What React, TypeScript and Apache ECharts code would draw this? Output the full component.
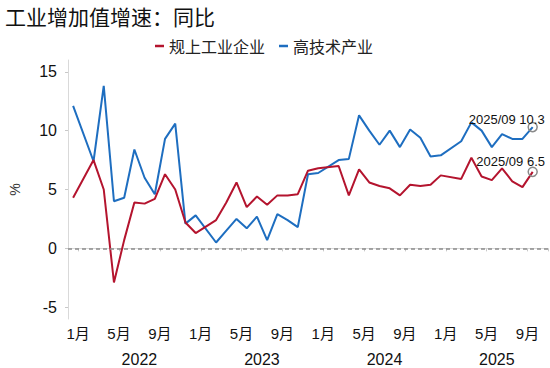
import React, { useEffect, useRef } from "react";
import * as echarts from "echarts";

const titleText = "工业增加值增速：同比";
const seriesNames = ["规上工业企业", "高技术产业"];

const categories = [
  "2021-12",
  "2022-01", "2022-02", "2022-03", "2022-04", "2022-05", "2022-06",
  "2022-07", "2022-08", "2022-09", "2022-10", "2022-11", "2022-12",
  "2023-01", "2023-02", "2023-03", "2023-04", "2023-05", "2023-06",
  "2023-07", "2023-08", "2023-09", "2023-10", "2023-11", "2023-12",
  "2024-01", "2024-02", "2024-03", "2024-04", "2024-05", "2024-06",
  "2024-07", "2024-08", "2024-09", "2024-10", "2024-11", "2024-12",
  "2025-01", "2025-02", "2025-03", "2025-04", "2025-05", "2025-06",
  "2025-07", "2025-08", "2025-09", "2025-10",
];

const industrial = [
  4.3,
  null, 7.5, 5.0, -2.9, 0.7, 3.9, 3.8, 4.2, 6.3, 5.0, 2.2, 1.3,
  null, 2.4, 3.9, 5.6, 3.5, 4.4, 3.7, 4.5, 4.5, 4.6, 6.6, 6.8,
  null, 7.0, 4.5, 6.7, 5.6, 5.3, 5.1, 4.5, 5.4, 5.3, 5.4, 6.2,
  null, 5.9, 7.7, 6.1, 5.8, 6.8, 5.7, 5.2, 6.5, null,
];

const hiTech = [
  12.1,
  null, 7.4, 13.8, 4.0, 4.3, 8.4, 6.0, 4.6, 9.3, 10.6, 2.1, 2.8,
  null, 0.5, 1.5, 2.5, 1.7, 2.7, 0.7, 2.9, 2.4, 1.8, 6.3, 6.4,
  null, 7.5, 7.6, 11.3, 10.0, 8.8, 10.0, 8.6, 10.1, 9.4, 7.8, 7.9,
  null, 9.1, 10.7, 10.0, 8.6, 9.7, 9.3, 9.3, 10.3, null,
];

const monthTickMonths = [1, 5, 9];
const yearLabels = ["2022", "2023", "2024", "2025"];
const yearLabelAt = ["2022-07", "2023-07", "2024-07", "2025-06"];

const RED = "#B4142E";
const BLUE = "#1E6EC0";
const FONT = "'Liberation Sans', Arial, 'Noto Sans CJK SC', sans-serif";
const CJK = "'Noto Sans CJK SC', sans-serif";

function lastIndex(arr: (number | null)[]) {
  for (let i = arr.length - 1; i >= 0; i--) if (arr[i] !== null) return i;
  return -1;
}

function buildData(arr: (number | null)[], offset: number[]) {
  const li = lastIndex(arr);
  return arr.map((v, i) => {
    if (i !== li) return v;
    return {
      value: v,
      symbol: "circle",
      symbolSize: 9,
      itemStyle: { color: "rgba(255,255,255,0)", borderColor: "#8a8a8a", borderWidth: 1.5 },
      label: {
        show: true,
        position: "top",
        distance: 0,
        offset,
        fontFamily: FONT,
        fontSize: 13,
        color: "#111",
        formatter: () => `${categories[i].replace("-", "/")} ${v}`,
      },
    };
  });
}

export default function App() {
  const ref = useRef<HTMLDivElement>(null);
  useEffect(() => {
    if (!ref.current) return;
    const chart = echarts.init(ref.current, undefined, { renderer: "svg" });
    const tickFn = (i: number) => monthTickMonths.includes(parseInt(categories[i].slice(5), 10));
    chart.setOption({
      animation: false,
      backgroundColor: "#fff",
      title: {
        text: titleText,
        left: 0,
        top: 0,
        textStyle: { fontFamily: CJK, fontSize: 21, fontWeight: "normal", color: "#111" },
      },
      legend: {
        top: 33,
        left: 150,
        icon: "rect",
        itemWidth: 9,
        itemHeight: 2.5,
        itemGap: 14,
        textStyle: { fontFamily: CJK, fontSize: 16, color: "#222" },
        data: seriesNames,
      },
      grid: { left: 59, right: 2, top: 60, bottom: 49, containLabel: false },
      xAxis: [
        {
          type: "category",
          data: categories,
          boundaryGap: true,
          axisLine: { show: true, lineStyle: { color: "#d9d9d9", width: 1 } },
          axisTick: { show: true, interval: tickFn, length: 3, lineStyle: { color: "#c8c8c8" } },
          axisLabel: {
            interval: tickFn,
            margin: 7,
            fontFamily: FONT,
            fontSize: 15,
            color: "#111",
            padding: [0, 10.4, 0, 0],
            formatter: (v: string) => `${parseInt(v.slice(5), 10)}月`,
          },
          splitLine: { show: false },
        },
        {
          type: "category",
          data: categories,
          position: "bottom",
          offset: 25,
          boundaryGap: true,
          axisLine: { show: false },
          axisTick: { show: false },
          axisLabel: {
            interval: (i: number) => yearLabelAt.includes(categories[i]),
            margin: 7,
            fontFamily: FONT,
            fontSize: 16,
            color: "#111",
            padding: [0, 10.4, 0, 0],
            formatter: (v: string) => {
              const k = yearLabelAt.indexOf(v);
              return k >= 0 ? yearLabels[k] : "";
            },
          },
          splitLine: { show: false },
        },
      ],
      yAxis: {
        type: "value",
        min: -6,
        max: 16,
        name: "%",
        nameLocation: "middle",
        nameGap: 46,
        nameRotate: 90,
        nameTextStyle: { fontFamily: FONT, fontSize: 14, color: "#333" },
        axisLine: { show: true, lineStyle: { color: "#d9d9d9" } },
        axisTick: { show: true, length: 3, lineStyle: { color: "#c8c8c8" } },
        axisLabel: {
          showMinLabel: false,
          showMaxLabel: false,
          margin: 11,
          fontFamily: FONT,
          fontSize: 16,
          color: "#111",
        },
        splitLine: { show: false },
      },
      series: [
        {
          name: seriesNames[0],
          type: "line",
          xAxisIndex: 0,
          data: buildData(industrial, [-22, 1]),
          connectNulls: true,
          symbol: "none",
          lineStyle: { color: RED, width: 2 },
          itemStyle: { color: RED },
          markLine: {
            silent: true,
            symbol: "none",
            label: { show: false },
            lineStyle: { color: "#8c8c8c", width: 1.5, type: [4, 3] },
            data: [{ yAxis: 0 }],
          },
          z: 3,
        },
        {
          name: seriesNames[1],
          type: "line",
          xAxisIndex: 0,
          data: buildData(hiTech, [-26, 4]),
          connectNulls: true,
          symbol: "none",
          lineStyle: { color: BLUE, width: 2 },
          itemStyle: { color: BLUE },
          z: 2,
        },
      ],
    });
    return () => chart.dispose();
  }, []);
  return (
    <div
      ref={ref}
      style={{ position: "absolute", left: 0, top: 0, width: 550, height: 368 }}
    />
  );
}
